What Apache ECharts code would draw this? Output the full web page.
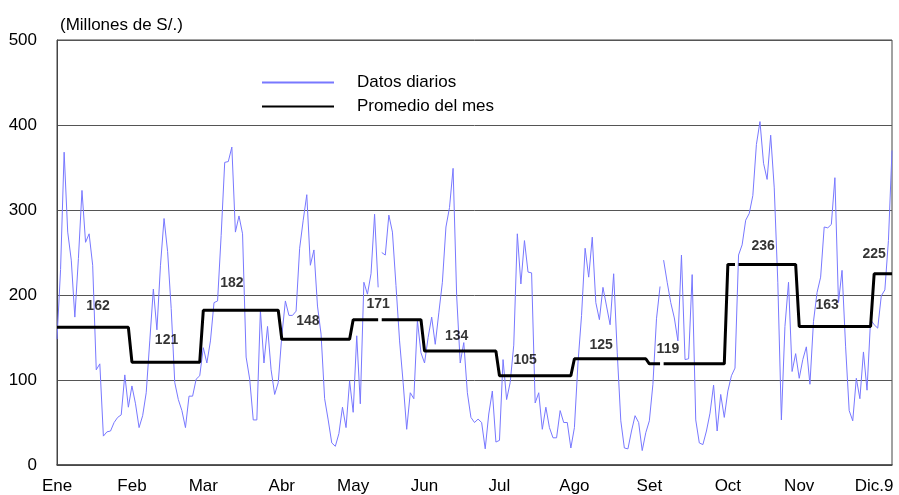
<!DOCTYPE html>
<html>
<head>
<meta charset="utf-8">
<script src="https://cdn.jsdelivr.net/npm/echarts@6/dist/echarts.min.js"></script>
<style>
html,body{margin:0;padding:0;background:#fff;}
#chart{width:899px;height:495px;}
</style>
</head>
<body>
<div id="chart"></div>
<script>
// ---- Data (millones de S/.) ----
const monthNames = ['Ene','Feb','Mar','Abr','May','Jun','Jul','Ago','Set','Oct','Nov','Dic.9'];
const ene = [148,230,368,274,241,174,243,323,262,272,235,112,119,34,39,40,50,56,59,106,68];
const feb = [93,72,44,58,85,146,207,159,235,290,251,184,97,77,64,44,81,81,101,105];
const mar = [138,120,146,191,193,270,356,357,374,274,293,272,127,101,53,53,182,120,163,112,83,97];
const abr = [152,193,176,176,181,255,288,318,235,253,187,154,78,53,26,22,37,68,44,99];
const may = [62,152,72,215,201,225,295,209,250,247,294,274,211,146,97,42,85,78,170,132];
const jun = [120,150,174,142,179,215,280,303,349,199,120,144,85,56,50,54,50,19,60,87,27];
const jul = [29,124,77,97,141,272,213,264,227,226,73,85,42,68,44,32,32,64,50,50,20];
const ago = [44,120,176,255,221,268,191,171,209,187,165,225,132,52,20,19,40,58,50,17,38];
const set = [52,95,172,210,241,215,191,173,146,247,124,125,224,53,26,24,40,61,94,40,83,56];
const oct = [87,105,114,247,259,288,296,317,377,404,355,336,388,326,215,53,163,215,110,131];
const nov = [102,124,139,95,169,203,221,280,279,283,338,191,229,139,64,52,102,78,133,88,171];
const dic = [165,161,199,206,264,370];
const monthlyAvg = [162,121,182,148,171,134,105,125,119,236,163,225];
const yTicks = [0,100,200,300,400,500];
// day indices after which the lines are broken (missing data)
const breakBoth = [90,169];
const breakAvg = [190];

// ---- Label layout (style) ----
const labelDx = [11.5,9.7,8,7.3,7,9,7.2,7.5,5.2,9.9,7.8,0];
const labelDy = [21,22,27,18,16,15,16,14,15,18,21,20];

const daily = [ene,feb,mar,abr,may,jun,jul,ago,set,oct,nov,dic];
const starts = [];
const dailyData = [];
const avgData = [];
let idx = 0;
daily.forEach((arr, m) => {
  starts.push(idx);
  arr.forEach(v => {
    dailyData.push([idx, v]);
    avgData.push([idx, monthlyAvg[m]]);
    if (breakBoth.includes(idx)) {
      dailyData.push([idx + 0.5, null]);
      avgData.push([idx + 0.5, null]);
    }
    if (breakAvg.includes(idx)) {
      avgData.push([idx + 0.5, null]);
    }
    idx++;
  });
});
const lastIdx = idx - 1;
const labelData = monthlyAvg.map((v, m) => ({
  value: [starts[m] + labelDx[m], v],
  label: { offset: [0, -labelDy[m]] }
}));
const FONT = 'Liberation Sans, Arial, sans-serif';

const chart = echarts.init(document.getElementById('chart'), null, {renderer: 'canvas'});
chart.setOption({
  animation: false,
  backgroundColor: '#fff',
  title: {
    text: '(Millones de S/.)',
    left: 55, top: 12,
    textStyle: {fontFamily: FONT, fontSize: 17, fontWeight: 'normal', color: '#000'}
  },
  legend: {
    data: ['Datos diarios', 'Promedio del mes'],
    orient: 'vertical',
    left: 256, top: 69,
    itemWidth: 72, itemHeight: 14, itemGap: 7,
    itemStyle: {opacity: 0},
    textStyle: {fontFamily: FONT, fontSize: 17, color: '#000', padding: [0,0,0,18]}
  },
  grid: {
    left: 57, right: 7, top: 40, bottom: 29,
    show: true, borderColor: '#444', borderWidth: 1, backgroundColor: 'transparent'
  },
  xAxis: {
    type: 'value',
    min: 0, max: lastIdx,
    splitLine: {show: false},
    axisTick: {show: false},
    axisLine: {show: true, lineStyle: {color: '#444', width: 1.5}},
    axisLabel: {
      customValues: starts,
      formatter: (val) => {
        const k = starts.indexOf(Math.round(val));
        return k >= 0 ? monthNames[k] : '';
      },
      margin: 13,
      fontFamily: FONT, fontSize: 17, color: '#000'
    }
  },
  yAxis: {
    type: 'value',
    min: yTicks[0], max: yTicks[yTicks.length - 1],
    interval: yTicks[1] - yTicks[0],
    axisLine: {show: true, lineStyle: {color: '#444', width: 1}},
    axisTick: {show: false},
    splitLine: {show: true, lineStyle: {color: '#555', width: 1}},
    axisLabel: {margin: 20, fontFamily: FONT, fontSize: 17, color: '#000'}
  },
  series: [
    {
      name: 'Datos diarios',
      type: 'line',
      data: dailyData,
      symbol: 'none',
      connectNulls: false,
      lineStyle: {color: '#7878ff', width: 1},
      itemStyle: {color: '#7878ff'},
      z: 2
    },
    {
      name: 'Promedio del mes',
      type: 'line',
      data: avgData,
      symbol: 'none',
      connectNulls: false,
      lineStyle: {color: '#000', width: 3},
      itemStyle: {color: '#000'},
      z: 3
    },
    {
      name: 'labels',
      type: 'scatter',
      data: labelData,
      symbolSize: 0,
      silent: true,
      z: 5,
      label: {
        show: true,
        position: 'inside',
        formatter: (p) => String(p.value[1]),
        fontFamily: FONT, fontSize: 14, fontWeight: 'bold', color: '#000'
      }
    }
  ]
});
</script>
</body>
</html>
